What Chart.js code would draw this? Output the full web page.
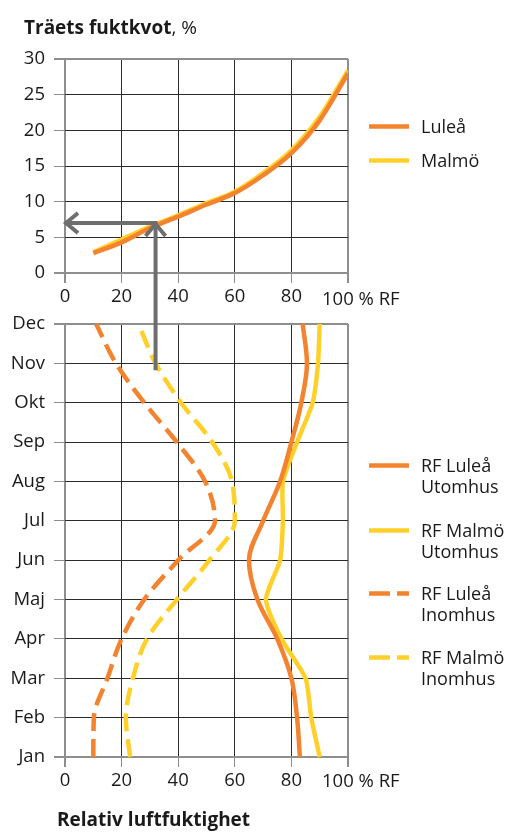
<!DOCTYPE html>
<html>
<head>
<meta charset="utf-8">
<script src="https://cdn.jsdelivr.net/npm/chart.js@4.4.1/dist/chart.umd.min.js"></script>
<style>
    body { margin: 0; width: 507px; height: 833px; background: #fff; position: relative; overflow: hidden;
           font-family: 'Open Sans', 'Noto Sans', sans-serif; color: #1a1a1a; }
    canvas { position: absolute; left: 0; }
    #fuktChart { top: 0; }
    #rfChart { top: 300px; }
    #pil { top: 0; pointer-events: none; }
    .txt { position: absolute; white-space: nowrap; }
    .rubrik { font-size: 19px; line-height: 24px; }
    .rubrik b { font-weight: 700; }
    .enhet { font-size: 18.5px; line-height: 22px; left: 322px; }
    .post { position: absolute; left: 369px; font-size: 18px; line-height: 21px; }
    .post svg { position: absolute; left: 0; top: 8px; }
    .post span { position: absolute; left: 52px; top: 0; white-space: nowrap; }
</style>
</head>
<body>
<canvas id="fuktChart" width="507" height="315"></canvas>
<canvas id="rfChart" width="507" height="533"></canvas>
<canvas id="pil" width="507" height="833"></canvas>

<div class="txt rubrik" style="left:24px; top:15px;"><b>Träets fuktkvot</b>, %</div>
<div class="txt enhet" style="top:287px;">100 % RF</div>
<div class="txt enhet" style="top:769px;">100 % RF</div>
<div class="txt rubrik" style="left:57px; top:807px;"><b>Relativ luftfuktighet</b></div>
<div id="legend"></div>

<script>
    // Övre diagram: fuktkvot mot relativ fuktighet
    const rfPunkter = [10, 20, 30, 40, 50, 60, 70, 80, 90, 100];
    const fuktLulea = [2.8, 4.3, 6.3, 7.9, 9.6, 11.2, 13.7, 16.8, 21.4, 28.0];
    const fuktMalmo = [2.9, 4.7, 6.5, 8.1, 9.8, 11.4, 14.0, 17.2, 21.9, 28.4];

    // Nedre diagram: RF per månad
    const manader = ['Jan', 'Feb', 'Mar', 'Apr', 'Maj', 'Jun', 'Jul', 'Aug', 'Sep', 'Okt', 'Nov', 'Dec'];
    const rfLuleaUte = [83, 82, 80, 75, 68, 65, 70, 76, 80, 83.5, 85.5, 84];
    const rfMalmoUte = [90, 87, 85, 76.5, 71, 76, 77, 77, 82, 87.5, 89.4, 90];
    const rfLuleaInne = [10, 10.2, 15, 20, 28, 40, 53, 49.5, 39.5, 28, 18, 11];
    const rfMalmoInne = [23, 21.5, 24, 29, 39.5, 51, 60, 59, 52, 41, 32, 26];

    // Avläsningspil
    const pilRF = 32;
    const pilFukt = 7;
    const pilManad = 'Nov';

    const ORANGE = '#F3832E';
    const GUL = '#FFD02A';
    const KANT = '#8e8e8e';
    const INRE = '#2b2b2b';
    const DASH = [18, 8];
    const tickFont = { family: "'Open Sans', 'Noto Sans', sans-serif", size: 18.5 };

    Chart.defaults.color = '#1a1a1a';
    Chart.defaults.animation = false;

    // sista x-etiketten (100) skrivs ihop med enheten i HTML
    const xTicks = { font: tickFont, color: '#1a1a1a', stepSize: 20, padding: 3, maxRotation: 0,
                     callback: v => v === 100 ? '' : v };

    function xAxel() {
        return {
            type: 'linear', min: 0, max: 100,
            border: { display: false },
            ticks: xTicks,
            grid: { color: c => (c.tick.value === 0 || c.tick.value === 100) ? KANT : INRE,
                    lineWidth: c => (c.tick.value === 0 || c.tick.value === 100) ? 2 : 1,
                    tickColor: KANT, tickLength: 10 },
            afterFit: s => { s.height = 40; }
        };
    }

    const fuktChart = new Chart(document.getElementById('fuktChart'), {
        type: 'scatter',
        data: {
            datasets: [
                { label: 'Luleå', data: rfPunkter.map((x, i) => ({ x: x, y: fuktLulea[i] })), borderColor: ORANGE },
                { label: 'Malmö', data: rfPunkter.map((x, i) => ({ x: x, y: fuktMalmo[i] })), borderColor: GUL }
            ].map(d => Object.assign(d, { showLine: true, borderWidth: 4.5, pointRadius: 0, cubicInterpolationMode: 'monotone' }))
        },
        options: {
            responsive: false,
            layout: { padding: { left: 0, right: 159, top: 59, bottom: 2 } },
            plugins: { legend: { display: false }, tooltip: { enabled: false } },
            scales: {
                x: xAxel(),
                y: {
                    type: 'linear', min: 0, max: 30,
                    border: { display: false },
                    ticks: { font: tickFont, color: '#1a1a1a', stepSize: 5, padding: 9 },
                    grid: { color: c => (c.tick.value === 0 || c.tick.value === 30) ? KANT : INRE,
                            lineWidth: c => (c.tick.value === 0 || c.tick.value === 30) ? 2 : 1,
                            tickColor: KANT, tickLength: 11 },
                    afterFit: s => { s.width = 65; }
                }
            }
        }
    });

    const rfChart = new Chart(document.getElementById('rfChart'), {
        type: 'line',
        data: {
            labels: manader,
            datasets: [
                { label: 'RF Luleå Utomhus', data: rfLuleaUte, borderColor: ORANGE, cubicInterpolationMode: 'monotone' },
                { label: 'RF Malmö Utomhus', data: rfMalmoUte, borderColor: GUL, tension: 0.2 },
                { label: 'RF Luleå Inomhus', data: rfLuleaInne, borderColor: ORANGE, borderDash: DASH, cubicInterpolationMode: 'monotone' },
                { label: 'RF Malmö Inomhus', data: rfMalmoInne, borderColor: GUL, borderDash: DASH, cubicInterpolationMode: 'monotone' }
            ].map(d => Object.assign(d, { borderWidth: 4.5, pointRadius: 0, fill: false }))
        },
        options: {
            responsive: false,
            indexAxis: 'y',
            layout: { padding: { left: 0, right: 159, top: 24, bottom: 36 } },
            plugins: { legend: { display: false }, tooltip: { enabled: false } },
            scales: {
                x: xAxel(),
                y: {
                    type: 'category', reverse: true, offset: false,
                    border: { display: false },
                    ticks: { font: tickFont, color: '#1a1a1a', padding: 9, autoSkip: false },
                    grid: { color: c => (c.index === 0 || c.index === manader.length - 1) ? KANT : INRE,
                            lineWidth: c => (c.index === 0 || c.index === manader.length - 1) ? 2 : 1,
                            tickColor: KANT, tickLength: 11 },
                    afterFit: s => { s.width = 65; }
                }
            }
        }
    });

    // Pilen ritas ovanpå båda diagrammen med deras skalor
    function ritaPil() {
        const ctx = document.getElementById('pil').getContext('2d');
        const topOff = document.getElementById('fuktChart').offsetTop;
        const botOff = document.getElementById('rfChart').offsetTop;
        const x = fuktChart.scales.x.getPixelForValue(pilRF);
        const x0 = fuktChart.scales.x.getPixelForValue(0);
        const y = fuktChart.scales.y.getPixelForValue(pilFukt) + topOff;
        const yNed = rfChart.scales.y.getPixelForValue(manader.indexOf(pilManad)) + botOff + 7;

        ctx.strokeStyle = '#6e6e6e';
        ctx.lineWidth = 4;
        ctx.lineJoin = 'miter';
        ctx.beginPath();
        ctx.moveTo(x, yNed);
        ctx.lineTo(x, y);
        ctx.lineTo(x0, y);
        ctx.stroke();
        // pilspetsar
        ctx.beginPath();
        ctx.moveTo(x0 + 13, y - 10);
        ctx.lineTo(x0 + 1, y);
        ctx.lineTo(x0 + 13, y + 10);
        ctx.moveTo(x - 10, y + 13);
        ctx.lineTo(x, y + 1);
        ctx.lineTo(x + 10, y + 13);
        ctx.stroke();
    }
    ritaPil();

    // Förklaringar (flerradiga) byggs från dataseten
    function forklaring(chart, toppar) {
        const el = document.getElementById('legend');
        chart.data.datasets.forEach((d, i) => {
            const div = document.createElement('div');
            div.className = 'post';
            div.style.top = toppar[i] + 'px';
            const dash = d.borderDash ? 'stroke-dasharray="21 7"' : '';
            div.innerHTML = '<svg width="40" height="5"><line x1="0" y1="2.5" x2="40" y2="2.5" stroke="' +
                d.borderColor + '" stroke-width="4.5" ' + dash + '/></svg>' +
                '<span>' + d.label.replace(/ (Utomhus|Inomhus)$/, '<br>$1') + '</span>';
            el.appendChild(div);
        });
    }
    forklaring(fuktChart, [116, 150]);
    forklaring(rfChart, [455, 520, 583, 647]);
</script>
</body>
</html>
